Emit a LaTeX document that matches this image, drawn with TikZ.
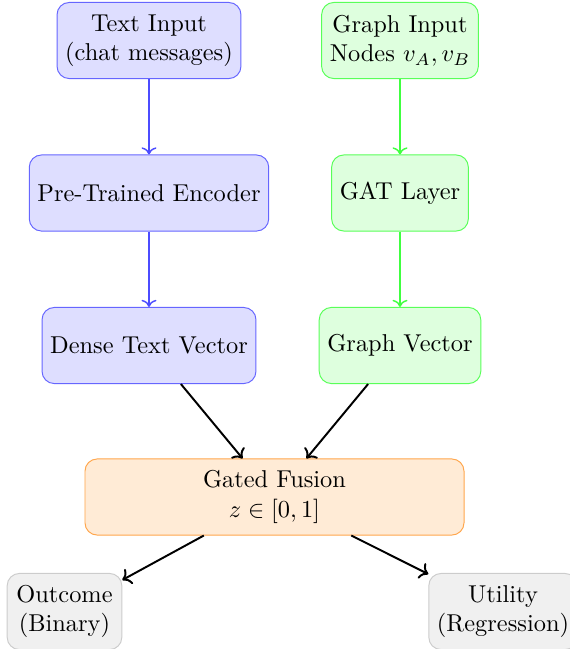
\documentclass[tikz,border=0pt]{standalone}
\usetikzlibrary{arrows.meta}
\begin{document}
\begin{tikzpicture}[x=0.41pt,y=-0.41pt,
  box/.style={draw, rounded corners=5pt, align=center, minimum height=31.2pt, inner sep=3.33pt},
  textbox/.style={box, draw=blue!60, fill=blue!13},
  graphbox/.style={box, draw=green!65, fill=green!13},
  fusebox/.style={box, draw=orange!70, fill=orange!16, minimum width=155.4pt},
  outbox/.style={box, draw=gray!40, fill=gray!12, minimum width=47pt},
  tarrow/.style={->, semithick, blue!70},
  garrow/.style={->, semithick, green!75},
  karrow/.style={->, thick, black}]
\useasboundingbox (0,0) rectangle (570,649);
\node[textbox] (tin) at (149,40.5) {Text Input\\(chat messages)};
\node[graphbox] (gin) at (400,40.5) {Graph Input\\Nodes $v_A, v_B$};
\node[textbox] (enc) at (149,193) {Pre-Trained Encoder};
\node[graphbox] (gat) at (400,193) {GAT Layer};
\node[textbox] (dtv) at (149,345.5) {Dense Text Vector};
\node[graphbox] (gv) at (400,345.5) {Graph Vector};
\node[fusebox] (fus) at (274.5,497) {Gated Fusion\\$z \in [0,1]$};
\node[outbox] (out) at (64.5,611.5) {Outcome\\(Binary)};
\node[outbox] (util) at (503,611.5) {Utility\\(Regression)};
\draw[tarrow] (tin) -- (enc);
\draw[tarrow] (enc) -- (dtv);
\draw[garrow] (gin) -- (gat);
\draw[garrow] (gat) -- (gv);
\draw[karrow] (dtv) -- (fus);
\draw[karrow] (gv) -- (fus);
\draw[karrow] (fus) -- (out);
\draw[karrow] (fus) -- (util);
\end{tikzpicture}
\end{document}
